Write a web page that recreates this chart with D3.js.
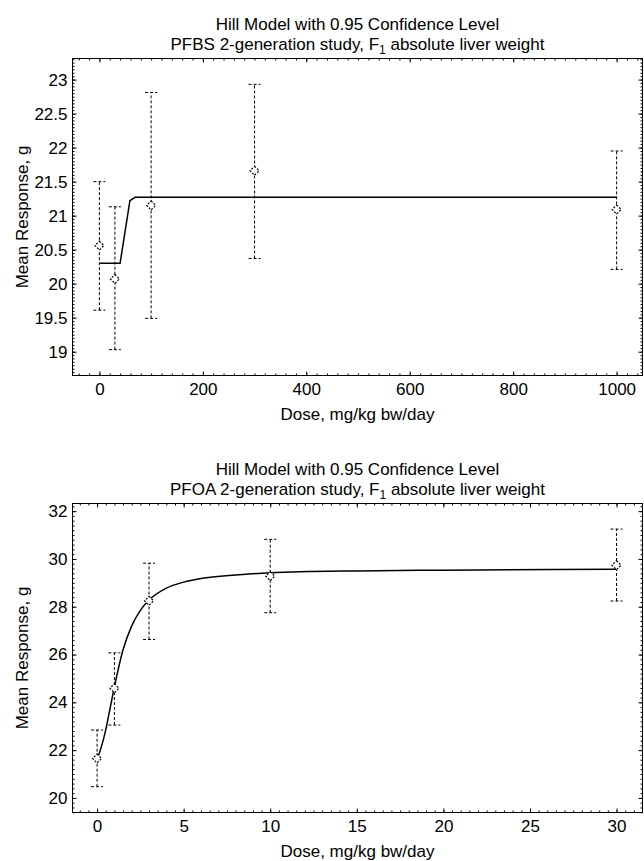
<!DOCTYPE html>
<html>
<head>
<meta charset="utf-8">
<script src="https://cdn.jsdelivr.net/npm/d3@7"></script>
<style>
  body { margin: 0; background: #fff; }
  text { font-family: "Liberation Sans", Arial, sans-serif; fill: #000; }
</style>
</head>
<body>
<div id="chart"></div>
<script>

// ---- PFBS panel (top) ----
var pfbs_dose  = [0, 30, 100, 300, 1000];
var pfbs_mean  = [20.56, 20.07, 21.15, 21.66, 21.09];
var pfbs_lower = [19.61, 19.03, 19.49, 20.37, 20.21];
var pfbs_upper = [21.50, 21.13, 22.81, 22.93, 21.95];
var pfbs_fit_dose = [0, 40, 59, 69, 1000];
var pfbs_fit_val  = [20.30, 20.30, 21.22, 21.27, 21.27];
var pfbs_xticks = [0, 200, 400, 600, 800, 1000];
var pfbs_yticks = [19, 19.5, 20, 20.5, 21, 21.5, 22, 22.5, 23];

// ---- PFOA panel (bottom) ----
var pfoa_dose  = [0, 1, 3, 10, 30];
var pfoa_mean  = [21.65, 24.59, 28.25, 29.28, 29.74];
var pfoa_lower = [20.47, 23.05, 26.63, 27.75, 28.24];
var pfoa_upper = [22.84, 26.07, 29.82, 30.82, 31.25];
var pfoa_fit_dose = [0, 0.1, 0.25, 0.5, 0.75, 1, 1.5, 2, 2.5, 3, 4, 5, 6, 8, 10, 15, 20, 30];
var pfoa_fit_val  = [21.72, 21.82, 22.15, 22.85, 23.75, 24.65, 26.2, 27.2, 27.85, 28.28, 28.78, 29.03, 29.18, 29.33, 29.42, 29.5, 29.53, 29.57];
var pfoa_xticks = [0, 5, 10, 15, 20, 25, 30];
var pfoa_yticks = [20, 22, 24, 26, 28, 30, 32];

var W = 644, H = 861;
var FS = "17px";
var svg = d3.select("#chart").append("svg")
  .attr("width", W).attr("height", H);

function drawPanel(cfg) {
  var left = 72.5, right = 642.5;
  var top = cfg.top, bottom = cfg.bottom;
  var cx = (left + right) / 2;

  var x = d3.scaleLinear().domain(cfg.xdom).range([left, right]);
  var y = d3.scaleLinear().domain(cfg.ydom).range([bottom, top]);

  var g = svg.append("g");

  // titles
  g.append("text").attr("x", cx).attr("y", top - 29)
    .attr("text-anchor", "middle").style("font-size", FS)
    .text("Hill Model with 0.95 Confidence Level");
  var t2 = g.append("text").attr("x", cx).attr("y", top - 9)
    .attr("text-anchor", "middle").style("font-size", FS);
  t2.append("tspan").text(cfg.study + " 2-generation study, F");
  t2.append("tspan").attr("dy", 4).style("font-size", "12px").text("1");
  t2.append("tspan").attr("dy", -4).text(" absolute liver weight");

  // minor ticks (all four sides, inward)
  g.append("g").attr("transform", "translate(0," + bottom + ")")
    .call(d3.axisBottom(x).tickValues(cfg.xminor).tickSize(-2).tickFormat(""));
  g.append("g").attr("transform", "translate(0," + top + ")")
    .call(d3.axisTop(x).tickValues(cfg.xminor).tickSize(-2).tickFormat(""));
  g.append("g").attr("transform", "translate(" + left + ",0)")
    .call(d3.axisLeft(y).tickValues(cfg.yminor).tickSize(-2).tickFormat(""));
  g.append("g").attr("transform", "translate(" + right + ",0)")
    .call(d3.axisRight(y).tickValues(cfg.yminor).tickSize(-2).tickFormat(""));

  // major ticks
  g.append("g").attr("class", "ax").attr("transform", "translate(0," + bottom + ")")
    .call(d3.axisBottom(x).tickValues(cfg.xticks).tickSize(-4).tickPadding(7).tickFormat(d3.format("")));
  g.append("g").attr("transform", "translate(0," + top + ")")
    .call(d3.axisTop(x).tickValues(cfg.xticks).tickSize(-4).tickFormat(""));
  g.append("g").attr("class", "ax").attr("transform", "translate(" + left + ",0)")
    .call(d3.axisLeft(y).tickValues(cfg.yticks).tickSize(-4).tickPadding(5).tickFormat(d3.format("")));
  g.append("g").attr("transform", "translate(" + right + ",0)")
    .call(d3.axisRight(y).tickValues(cfg.yticks).tickSize(-4).tickFormat(""));

  g.selectAll(".domain").remove();
  g.selectAll(".tick line").attr("stroke", "#000").attr("stroke-width", 1);
  g.selectAll(".ax text").style("font-size", FS)
    .style("font-family", "'Liberation Sans', Arial, sans-serif").attr("fill", "#000");

  // frame
  g.append("rect").attr("x", left).attr("y", top)
    .attr("width", right - left).attr("height", bottom - top)
    .attr("fill", "none").attr("stroke", "#000").attr("stroke-width", 1);

  // axis labels
  g.append("text").attr("x", cx).attr("y", bottom + 44)
    .attr("text-anchor", "middle").style("font-size", FS)
    .text("Dose, mg/kg bw/day");
  g.append("text")
    .attr("transform", "translate(28," + ((top + bottom) / 2) + ") rotate(-90)")
    .attr("text-anchor", "middle").style("font-size", FS)
    .text("Mean Response, g");

  // fitted curve
  var line = d3.line().curve(cfg.curve)
    .x(function(d){ return x(d[0]); }).y(function(d){ return y(d[1]); });
  var fit = cfg.fitDose.map(function(d, i){ return [d, cfg.fitVal[i]]; });
  g.append("path").datum(fit)
    .attr("d", line).attr("fill", "none")
    .attr("stroke", "#000").attr("stroke-width", 1.5);

  // error bars
  var pts = cfg.dose.map(function(d, i){
    return {dose: d, mean: cfg.mean[i], lo: cfg.lower[i], hi: cfg.upper[i]};
  });
  var eb = g.append("g").selectAll("g").data(pts).enter().append("g");
  eb.append("line")
    .attr("x1", function(d){ return x(d.dose); }).attr("x2", function(d){ return x(d.dose); })
    .attr("y1", function(d){ return y(d.lo); }).attr("y2", function(d){ return y(d.hi); })
    .attr("stroke", "#000").attr("stroke-dasharray", "3,2");
  ["lo", "hi"].forEach(function(k){
    eb.append("line")
      .attr("x1", function(d){ return x(d.dose) - 6; }).attr("x2", function(d){ return x(d.dose) + 6; })
      .attr("y1", function(d){ return y(d[k]); }).attr("y2", function(d){ return y(d[k]); })
      .attr("stroke", "#000").attr("stroke-dasharray", "3,2");
  });
  // diamonds
  eb.append("path")
    .attr("d", function(d){
      var px = x(d.dose), py = y(d.mean), r = 4.5;
      return "M" + px + "," + (py - r) + "L" + (px + r) + "," + py +
             "L" + px + "," + (py + r) + "L" + (px - r) + "," + py + "Z";
    })
    .attr("fill", "#fff").attr("stroke", "#000")
    .attr("stroke-width", 1.2).attr("stroke-dasharray", "2,1.5");
}

drawPanel({
  top: 58.5, bottom: 375.5,
  xdom: [-52, 1050], ydom: [18.65, 23.31],
  xticks: pfbs_xticks, yticks: pfbs_yticks,
  xminor: d3.range(-40, 1050, 20),
  yminor: d3.range(18.7, 23.31, 0.05),
  study: "PFBS", curve: d3.curveLinear,
  dose: pfbs_dose, mean: pfbs_mean, lower: pfbs_lower, upper: pfbs_upper,
  fitDose: pfbs_fit_dose, fitVal: pfbs_fit_val
});

drawPanel({
  top: 503.5, bottom: 812.5,
  xdom: [-1.42, 31.5], ydom: [19.39, 32.32],
  xticks: pfoa_xticks, yticks: pfoa_yticks,
  xminor: d3.range(-1, 31.5, 0.5),
  yminor: d3.range(19.4, 32.32, 0.2),
  study: "PFOA", curve: d3.curveMonotoneX,
  dose: pfoa_dose, mean: pfoa_mean, lower: pfoa_lower, upper: pfoa_upper,
  fitDose: pfoa_fit_dose, fitVal: pfoa_fit_val
});

</script>
</body>
</html>
